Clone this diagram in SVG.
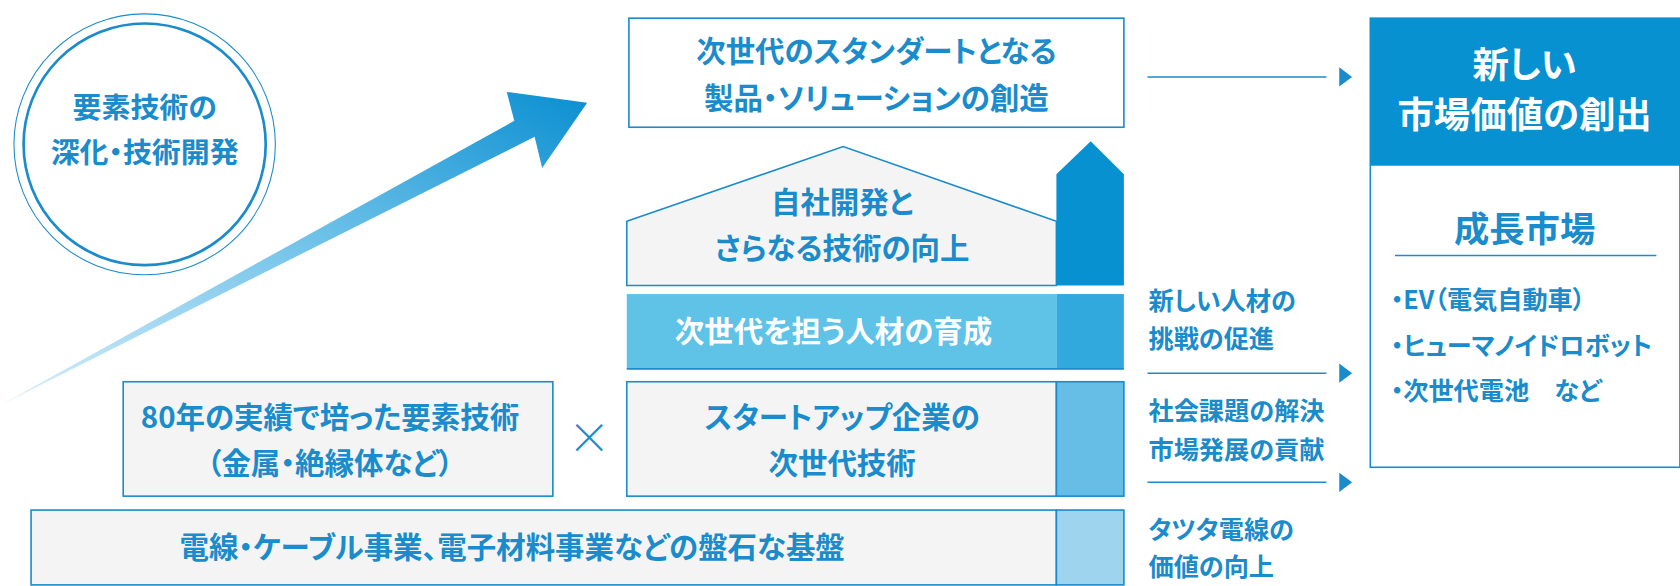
<svg xmlns="http://www.w3.org/2000/svg" width="1680" height="586" viewBox="0 0 1680 586">
<style>
text{font-family:"Noto Sans CJK JP","Noto Sans",sans-serif;font-weight:700;fill:#1a8bcb;font-feature-settings:"palt"}
.c{text-anchor:middle}
.w{fill:#fff}
.b{stroke:#1a8bcb;stroke-width:1.5}
.g{fill:#f4f4f4}
.s19{font-size:23.5px}.s21{font-size:27.5px}
</style>
<defs>
<linearGradient id="ag" x1="0" y1="1" x2="1" y2="0">
<stop offset="0" stop-color="#d8eff9"/><stop offset="0.55" stop-color="#6cc0e8"/><stop offset="1" stop-color="#0a8fd1"/>
</linearGradient>
</defs>
<g transform="scale(1.0714,1.0693)">
<g id="circle">
<circle cx="135" cy="135" r="122" fill="none" stroke="#1a8bcb" stroke-width="1"/>
<circle cx="135" cy="135" r="113" fill="none" stroke="#1a8bcb" stroke-width="2.5"/>
<text class="c" font-size="27" x="135" y="110">要素技術の</text>
<text class="c" font-size="27" x="135" y="152">深化・技術開発</text>
</g>
<g id="bigarrow"><polygon points="2,378 480,113 473,86 548,96 506,157 499,128" fill="url(#ag)"/></g>
<g id="top">
<rect x="587" y="17" width="462" height="102" fill="#fff" class="b"/>
<text class="c s21" x="818" y="58">次世代のスタンダートとなる</text>
<text class="c s21" x="818" y="102">製品・ソリューションの創造</text>
</g>
<g id="market">
<rect x="1279" y="17" width="289" height="420" fill="#fff" class="b"/>
<rect x="1279" y="17" width="289" height="138" fill="#0891d1"/>
<text class="c w" x="1423" y="73" font-size="34">新しい</text>
<text class="c w" x="1423" y="120" font-size="34">市場価値の創出</text>
<text class="c" x="1423" y="226" font-size="33">成長市場</text>
<line x1="1302" y1="239" x2="1546" y2="239" stroke="#1a8bcb" stroke-width="1.5"/>
<text class="s19" x="1298" y="289">・EV（電気自動車）</text>
<text class="s19" x="1298" y="332">・ヒューマノイドロボット</text>
<text class="s19" x="1298" y="374">・次世代電池　など</text>
</g>
<g id="house">
<polygon points="585,207 787,137 986,207 986,267 585,267" class="g b"/>
<text class="c s21" x="786" y="199">自社開発と</text>
<text class="c s21" x="786" y="242">さらなる技術の向上</text>
<polygon points="986,267 986,163 1018,132 1049,163 1049,267" fill="#0891d1"/>
</g>
<g id="talent">
<rect x="585" y="275" width="401" height="70" fill="#5fc3e8"/>
<rect x="986" y="275" width="63" height="70" fill="#31a9dc"/>
<line x1="585" y1="345" x2="1049" y2="345" stroke="#1a8bcb" stroke-width="1.5"/>
<text class="c s21 w" x="778" y="320">次世代を担う人材の育成</text>
</g>
<g id="startup">
<rect x="585" y="357" width="401" height="107" class="g b"/>
<rect x="986" y="357" width="63" height="107" fill="#66bde6" class="b"/>
<text class="c s21" x="786" y="400">スタートアップ企業の</text>
<text class="c s21" x="786" y="443">次世代技術</text>
</g>
<g id="tech80">
<rect x="115" y="357" width="401" height="107" class="g b"/>
<text class="c s21" x="308" y="400">80年の実績で培った要素技術</text>
<text class="c s21" x="308" y="443">（金属・絶縁体など）</text>
</g>
<text class="c" x="550" y="425" font-size="40" style="font-weight:300">×</text>
<g id="base">
<rect x="29" y="477" width="957" height="70" class="g b"/>
<rect x="986" y="477" width="63" height="70" fill="#9fd4ef" class="b"/>
<text class="c s21" x="478" y="522">電線・ケーブル事業、電子材料事業などの盤石な基盤</text>
</g>
<g id="labels">
<text class="s19" x="1072" y="290">新しい人材の</text>
<text class="s19" x="1072" y="325">挑戦の促進</text>
<text class="s19" x="1072" y="393">社会課題の解決</text>
<text class="s19" x="1072" y="429">市場発展の貢献</text>
<text class="s19" x="1072" y="504">タツタ電線の</text>
<text class="s19" x="1072" y="539">価値の向上</text>
</g>
<g id="connectors">
<g stroke="#1a8bcb" stroke-width="1.5">
<line x1="1071" y1="72" x2="1238" y2="72"/>
<line x1="1071" y1="349" x2="1238" y2="349"/>
<line x1="1071" y1="451" x2="1238" y2="451"/>
</g>
<g fill="#1a8bcb">
<polygon points="1250,63 1262,72 1250,81"/>
<polygon points="1250,340 1262,349 1250,358"/>
<polygon points="1250,442 1262,451 1250,460"/>
</g>
</g>
</g>
</svg>
